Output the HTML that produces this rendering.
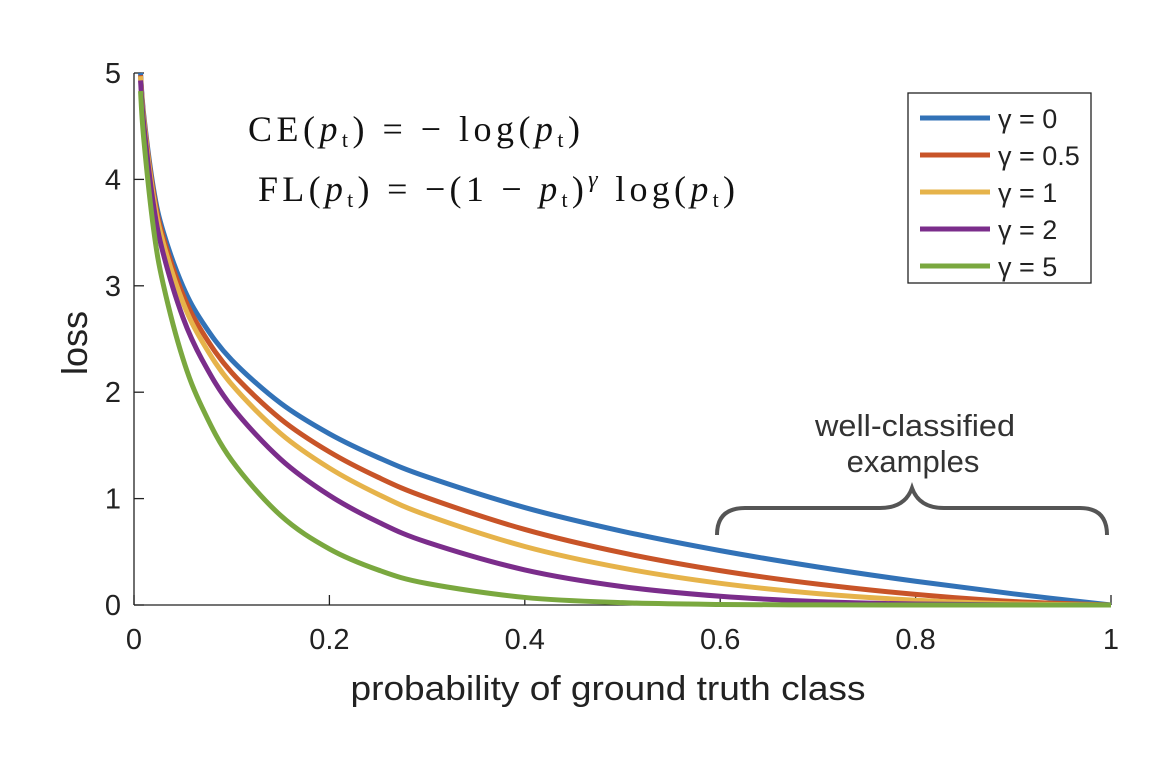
<!DOCTYPE html>
<html><head><meta charset="utf-8">
<style>
body{margin:0;background:#fff;}
svg{display:block;font-family:"Liberation Sans",sans-serif;}
</style></head>
<body>
<svg id="chart" width="1176" height="768" viewBox="0 0 1176 768">
<g id="axes"></g>
<g id="series"></g>
<g font-family="Liberation Serif, serif" font-size="36" fill="#111">
<text x="248" y="141" textLength="332" lengthAdjust="spacing">CE(<tspan font-style="italic">p</tspan><tspan font-size="22" dy="6">t</tspan><tspan dy="-6">) = − log(</tspan><tspan font-style="italic">p</tspan><tspan font-size="22" dy="6">t</tspan><tspan dy="-6">)</tspan></text>
<text x="258" y="201" textLength="477" lengthAdjust="spacing">FL(<tspan font-style="italic">p</tspan><tspan font-size="22" dy="6">t</tspan><tspan dy="-6">) = −(1 − </tspan><tspan font-style="italic">p</tspan><tspan font-size="22" dy="6">t</tspan><tspan dy="-6">)</tspan><tspan font-style="italic" font-size="24" dy="-14">γ</tspan><tspan dy="14"> log(</tspan><tspan font-style="italic">p</tspan><tspan font-size="22" dy="6">t</tspan><tspan dy="-6">)</tspan></text>
</g>
<g>
<path d="M717,535 Q717,508 745,508 L880,508 Q905,508 912,488 Q919,508 944,508 L1080,508 Q1107,508 1107,535" fill="none" stroke="#555" stroke-width="4"/>
<text x="915" y="436" text-anchor="middle" font-size="31" fill="#333" textLength="200" lengthAdjust="spacingAndGlyphs">well-classified</text>
<text x="913" y="472" text-anchor="middle" font-size="31" fill="#333">examples</text>
</g>
<g id="legend"></g>
</svg>
<script>
const pValues=[0.0067,0.01,0.02,0.03,0.05,0.07,0.1,0.15,0.2,0.25,0.3,0.4,0.5,0.6,0.7,0.8,0.9,1.0];
const loss_g0=[5.0,4.605,3.912,3.507,2.996,2.659,2.303,1.897,1.609,1.386,1.204,0.916,0.693,0.511,0.357,0.223,0.105,0];
const loss_g05=[4.98,4.58,3.873,3.454,2.920,2.564,2.185,1.749,1.439,1.200,1.008,0.710,0.490,0.323,0.196,0.100,0.033,0];
const loss_g1=[4.97,4.559,3.834,3.402,2.846,2.473,2.073,1.612,1.287,1.040,0.843,0.550,0.347,0.204,0.107,0.045,0.011,0];
const loss_g2=[4.93,4.513,3.757,3.300,2.704,2.300,1.865,1.371,1.030,0.780,0.590,0.330,0.173,0.082,0.032,0.009,0.001,0];
const loss_g5=[4.83,4.38,3.536,3.012,2.318,1.851,1.360,0.842,0.527,0.329,0.202,0.071,0.022,0.005,0.001,0,0,0];
const seriesLabels=["γ = 0","γ = 0.5","γ = 1","γ = 2","γ = 5"];
const xTicks=[0,0.2,0.4,0.6,0.8,1];
const xTickLabels=["0","0.2","0.4","0.6","0.8","1"];
const yTicks=[0,1,2,3,4,5];
const yTickLabels=["0","1","2","3","4","5"];

const NS="http://www.w3.org/2000/svg";
const X0=134,X1=1111,Y0=605,Y1=73;
const xs=v=>X0+(X1-X0)*v;
const ys=v=>Y0-(Y0-Y1)*v/5;
function mk(tag,attrs,parent){const e=document.createElementNS(NS,tag);for(const k in attrs)e.setAttribute(k,attrs[k]);parent.appendChild(e);return e;}
const axes=document.getElementById('axes');
let l=mk('line',{x1:X0,y1:Y1,x2:X0,y2:Y0,stroke:'#222','stroke-width':1.3},axes);


l=mk('line',{x1:X0,y1:Y0,x2:X1,y2:Y0,stroke:'#222','stroke-width':1.3},axes);


xTicks.forEach((t,i)=>{
 const tk=mk('line',{x1:xs(t),y1:Y0,x2:xs(t),y2:Y0-10,stroke:'#222','stroke-width':1.3},axes);
 
 
 const tx=mk('text',{x:xs(t),y:Y0+44,'text-anchor':'middle','font-size':29,fill:'#222'},axes);
 tx.textContent=xTickLabels[i];
 
 
});
yTicks.forEach((t,i)=>{
 const tk=mk('line',{x1:X0,y1:ys(t),x2:X0+10,y2:ys(t),stroke:'#222','stroke-width':1.3},axes);
 
 
 const tx=mk('text',{x:X0-13,y:ys(t)+10,'text-anchor':'end','font-size':29,fill:'#222'},axes);
 tx.textContent=yTickLabels[i];
 
 
});
let xt=mk('text',{x:608,y:700,'text-anchor':'middle','font-size':34,fill:'#222',textLength:515,lengthAdjust:'spacingAndGlyphs'},axes);
xt.textContent='probability of ground truth class';


let yt=mk('text',{x:0,y:0,'text-anchor':'middle','font-size':36,fill:'#222',transform:'translate(87,343) rotate(-90)'},axes);
yt.textContent='loss';



const colors=['#3272b7','#c85428','#e6b34a','#7b2d8b','#7aa83f'];
const allSeries=[loss_g0,loss_g05,loss_g1,loss_g2,loss_g5];
const sg=document.getElementById('series');
function smooth(pts){
 let d=`M${pts[0][0]},${pts[0][1]}`;
 for(let i=0;i<pts.length-1;i++){
  const p0=pts[Math.max(0,i-1)],p1=pts[i],p2=pts[i+1],p3=pts[Math.min(pts.length-1,i+2)];
  const c1=[p1[0]+(p2[0]-p0[0])/6,p1[1]+(p2[1]-p0[1])/6];
  const c2=[p2[0]-(p3[0]-p1[0])/6,p2[1]-(p3[1]-p1[1])/6];
  d+=` C${c1[0]},${c1[1]} ${c2[0]},${c2[1]} ${p2[0]},${p2[1]}`;
 }
 return d;
}
allSeries.forEach((vals,si)=>{
 const pts=pValues.map((p,i)=>[xs(p),ys(vals[i])]);
 const path=mk('path',{d:smooth(pts),fill:'none',stroke:colors[si],'stroke-width':5,'stroke-linejoin':'round'},sg);
 
 
});
const lg=document.getElementById('legend');
const box=mk('rect',{x:908,y:93,width:183,height:190,fill:'#fff',stroke:'#222','stroke-width':1.3},lg);


seriesLabels.forEach((lab,i)=>{
 const y=118+i*37;
 const ln=mk('line',{x1:920,y1:y,x2:990,y2:y,stroke:colors[i],'stroke-width':5},lg);
 
 
 const tx=mk('text',{x:998,y:y+10,'font-size':27,fill:'#222'},lg);
 tx.textContent=lab;
 
 
});
</script>
</body></html>
